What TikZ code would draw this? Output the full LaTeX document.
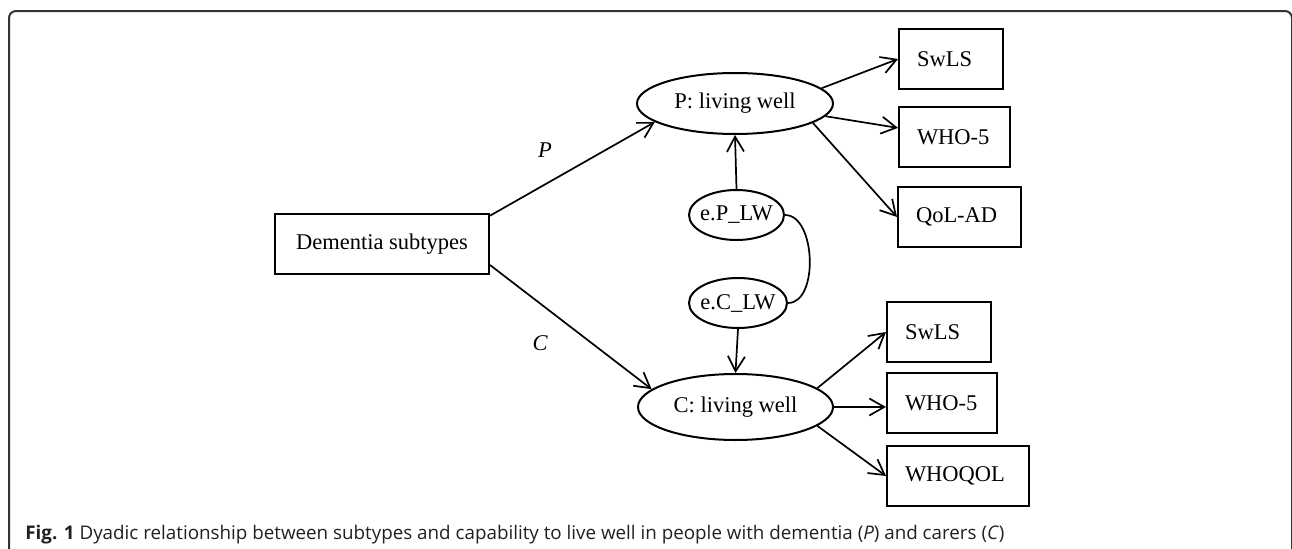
\documentclass[tikz,border=0pt]{standalone}
\usepackage{fontspec}
\setmainfont{Liberation Serif}
\newfontfamily\capfont{Open Sans}
\usetikzlibrary{arrows.meta,shapes.geometric}
\definecolor{framecolor}{HTML}{333333}
\definecolor{captioncolor}{HTML}{231F20}
\tikzset{
  >={Straight Barb[length=7.5pt,width=8.5pt]},
  latent/.style={draw, ellipse, line width=1pt, inner sep=0pt, font=\fontsize{11.25}{13}\selectfont},
  measure/.style={draw, rectangle, line width=1pt, minimum height=30pt, inner xsep=9pt, align=left, font=\fontsize{11.25}{13}\selectfont},
  regarrow/.style={->, line width=0.85pt},
}
\begin{document}
\begin{tikzpicture}[x=0.5pt, y=0.5pt]
  \useasboundingbox (0,0) rectangle (1292,548);
  \clip (0,0) rectangle (1292,548);

  % frame and caption
  \draw[framecolor, line width=1pt, rounded corners=3.5pt] (9,-20) -- (9,537) -- (1292,537) -- (1292,-20);
  \node[anchor=base west, inner sep=0pt, text=captioncolor, font=\capfont\fontsize{9.4}{11}\selectfont] (caption) at (25,8.5)
    {\textbf{Fig. 1} Dyadic relationship between subtypes and capability to live well in people with dementia (\textit{P}) and carers (\textit{C})};

  % === EXPOSURE ===
  \node[measure, align=center, minimum width=107pt] (dem) at (382,304) {Dementia subtypes};

  % === LATENT VARIABLES ===
  \node[latent, minimum width=98pt, minimum height=30.5pt] (pw) at (735,444.5) {P: living well};
  \node[latent, minimum width=97.5pt, minimum height=33pt] (cw) at (735.5,141) {C: living well};
  \node[latent, inner xsep=-1.8pt, minimum width=47.5pt, minimum height=25pt] (ep) at (736.5,333) {e.P\_LW};
  \node[latent, inner xsep=-1.8pt, minimum width=49pt, minimum height=25pt] (ec) at (738,245) {e.C\_LW};

  % === INDICATORS ===
  \node[measure, text width=34pt] (sw1) at (951,489) {SwLS};
  \node[measure, text width=37.5pt] (who1) at (954.5,411) {WHO-5};
  \node[measure, text width=43.5pt] (qol) at (959.5,331) {QoL-AD};
  \node[measure, text width=34pt] (sw2) at (939,216) {SwLS};
  \node[measure, text width=37pt] (who2) at (942,145) {WHO-5};
  \node[measure, text width=53pt] (wq) at (958,72) {WHOQOL};

  % path labels
  \node[font=\itshape\fontsize{11.25}{13}\selectfont] (plabel) at (545,398) {P};
  \node[font=\itshape\fontsize{11.25}{13}\selectfont] (clabel) at (540,205) {C};

  % === PATHS ===
  \draw[regarrow] ([yshift=-1.35pt]dem.north east) -- (pw.193);
  \draw[regarrow] ([yshift=5pt]dem.south east) -- (cw.168);
  \draw[regarrow] (ep.north) -- (pw.south);
  \draw[regarrow] (ec.south) -- (cw.north);
  \draw[line width=0.85pt] (ep.east) to[out=0, in=0, looseness=0.9] (ec.east);

  \draw[regarrow] (pw.10) -- (sw1.west);
  \draw[regarrow] (pw.-8) -- (who1);
  \draw[regarrow] (pw.-14) -- (qol.west);
  \draw[regarrow] (cw.13) -- (sw2.west);
  \draw[regarrow] (cw.east) -- (cw.east -| who2.west);
  \draw[regarrow] (cw.-13) -- (wq.west);
\end{tikzpicture}
\end{document}
